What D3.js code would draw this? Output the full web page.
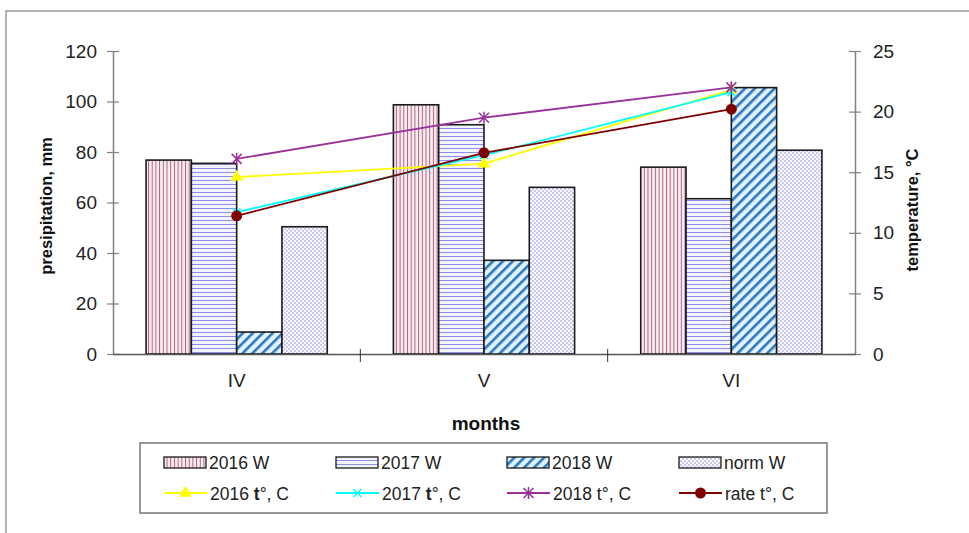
<!DOCTYPE html>
<html>
<head>
<meta charset="utf-8">
<script src="https://cdn.jsdelivr.net/npm/d3@7"></script>
<style>
  html, body { margin: 0; padding: 0; background: #fff; }
  svg { display: block; font-family: "Liberation Sans", Arial, sans-serif; }
</style>
</head>
<body>
<svg id="chart" width="969" height="533"></svg>
<script>
// Months and precipitation (mm) per year, plus the long-term norm
const months = ["IV", "V", "VI"];
const barSeries = ["2016 W", "2017 W", "2018 W", "norm W"];
const precip2016 = [76.8, 98.7, 74.0];
const precip2017 = [75.5, 90.8, 61.5];
const precip2018 = [8.7, 37.1, 105.5];
const precipNorm = [50.4, 66.0, 80.7];

// Mean air temperature (°C) per year and the climatic rate
const lineSeries = ["2016 t°, C", "2017 t°, C", "2018 t°, C", "rate t°, C"];
const temp2016 = [14.6, 15.7, 21.8];
const temp2017 = [11.7, 16.4, 21.6];
const temp2018 = [16.1, 19.5, 22.0];
const tempRate = [11.4, 16.6, 20.2];

const precipTicks = [0, 20, 40, 60, 80, 100, 120];
const tempTicks = [0, 5, 10, 15, 20, 25];

(function () {
const svg = d3.select("#chart");

// pattern fills for the bars
const defs = svg.append("defs");
const p16 = defs.append("pattern").attr("id", "pat2016").attr("patternUnits", "userSpaceOnUse")
  .attr("width", 3.7).attr("height", 10);
p16.append("rect").attr("width", 3.7).attr("height", 10).attr("fill", "#f8eef2");
p16.append("rect").attr("x", 0).attr("width", 1).attr("height", 10).attr("fill", "#b0607e");

const p17 = defs.append("pattern").attr("id", "pat2017").attr("patternUnits", "userSpaceOnUse")
  .attr("width", 10).attr("height", 4);
p17.append("rect").attr("width", 10).attr("height", 4).attr("fill", "#f3f3ff");
p17.append("rect").attr("y", 0).attr("width", 10).attr("height", 1).attr("fill", "#8e8ee8");

const p18 = defs.append("pattern").attr("id", "pat2018").attr("patternUnits", "userSpaceOnUse")
  .attr("width", 7).attr("height", 7).attr("patternTransform", "rotate(45)");
p18.append("rect").attr("width", 7).attr("height", 7).attr("fill", "#e2f1fb");
p18.append("rect").attr("x", 0).attr("width", 2.6).attr("height", 7).attr("fill", "#2a78bd");

const pn = defs.append("pattern").attr("id", "patNorm").attr("patternUnits", "userSpaceOnUse")
  .attr("width", 4).attr("height", 4);
pn.append("rect").attr("width", 4).attr("height", 4).attr("fill", "#fafaff");
pn.append("rect").attr("width", 2).attr("height", 2).attr("fill", "#c9c9f2");
pn.append("rect").attr("x", 2).attr("y", 2).attr("width", 2).attr("height", 2).attr("fill", "#c9c9f2");

const barFills = ["url(#pat2016)", "url(#pat2017)", "url(#pat2018)", "url(#patNorm)"];
const barValues = [precip2016, precip2017, precip2018, precipNorm];
const lineValues = [temp2016, temp2017, temp2018, tempRate];
const lineColors = ["#ffff00", "#00ffff", "#993399", "#800000"];
const lineMarkers = ["triangle", "cross", "asterisk", "circle"];

// outer frame (left and top edges)
svg.append("path").attr("d", "M6,533V11H969").attr("fill", "none").attr("stroke", "#9a9a9a").attr("stroke-width", 1.5);

// plot geometry
const plotLeft = 113, plotRight = 855, plotTop = 51, plotBottom = 354;

const x0 = d3.scaleBand().domain(months).range([plotLeft, plotRight]).paddingInner(0).paddingOuter(0);
const x1 = d3.scaleBand().domain(barSeries).range([0, x0.bandwidth()]).paddingInner(0).paddingOuter(0.73);
const yP = d3.scaleLinear().domain([0, 120]).range([plotBottom, plotTop]);
const yT = d3.scaleLinear().domain([0, 25]).range([plotBottom, plotTop]);

// bars
barSeries.forEach((s, si) => {
  svg.append("g").selectAll("rect").data(months).join("rect")
    .attr("x", m => x0(m) + x1(s))
    .attr("y", (m, i) => yP(barValues[si][i]))
    .attr("width", x1.bandwidth())
    .attr("height", (m, i) => yP(0) - yP(barValues[si][i]))
    .attr("fill", barFills[si])
    .attr("stroke", "#1a1a1a").attr("stroke-width", 1.6);
});

// axes
const axisColor = "#808080";
const gL = svg.append("g").attr("transform", `translate(${plotLeft},0)`)
  .call(d3.axisLeft(yP).tickValues(precipTicks).tickSize(6).tickSizeOuter(0).tickPadding(10));
gL.selectAll(".tick line").attr("x2", -6).attr("x1", 6);
const gR = svg.append("g").attr("transform", `translate(${plotRight},0)`)
  .call(d3.axisRight(yT).tickValues(tempTicks).tickSize(6).tickSizeOuter(0).tickPadding(12));
gR.selectAll(".tick line").attr("x1", -6).attr("x2", 6);
const gX = svg.append("g").attr("transform", `translate(0,${plotBottom})`)
  .call(d3.axisBottom(x0).tickSize(0).tickPadding(20));
// category dividers
gX.selectAll(".divider").data(months.slice(1)).join("line")
  .attr("class", "divider")
  .attr("x1", m => x0(m)).attr("x2", m => x0(m)).attr("y1", -5).attr("y2", 8)
  .attr("stroke", "#333").attr("stroke-width", 1);

[gL, gR, gX].forEach(g => {
  g.select(".domain").attr("stroke", axisColor).attr("stroke-width", 1.5);
  g.selectAll(".tick line").attr("stroke", axisColor).attr("stroke-width", 1.2);
  g.selectAll(".tick text").attr("font-size", 19).attr("fill", "#222")
    .attr("font-family", "'Liberation Sans', Arial, sans-serif");
});
gX.select(".domain").attr("stroke", "#555");

// axis titles
svg.append("text").attr("transform", "translate(52,206) rotate(-90)")
  .attr("text-anchor", "middle").attr("font-size", 16.5).attr("font-weight", "bold").attr("fill", "#111")
  .text("presipitation, mm");
svg.append("text").attr("transform", "translate(918,210) rotate(-90)")
  .attr("text-anchor", "middle").attr("font-size", 16.5).attr("font-weight", "bold").attr("fill", "#111")
  .text("temperature, °C");
svg.append("text").attr("x", 486).attr("y", 430)
  .attr("text-anchor", "middle").attr("font-size", 19).attr("font-weight", "bold").attr("fill", "#111")
  .text("months");

// marker drawing
function drawMarker(g, type, color, cx, cy) {
  if (type === "triangle") {
    g.append("path").attr("d", d3.symbol(d3.symbolTriangle, 70)())
      .attr("transform", `translate(${cx},${cy})`).attr("fill", color);
  } else if (type === "cross") {
    g.append("path").attr("d", "M-4,-4L4,4M-4,4L4,-4")
      .attr("transform", `translate(${cx},${cy})`).attr("stroke", color).attr("stroke-width", 1.5).attr("fill", "none");
  } else if (type === "asterisk") {
    g.append("path").attr("d", "M-5,-5L5,5M-5,5L5,-5M0,-6V6")
      .attr("transform", `translate(${cx},${cy})`).attr("stroke", color).attr("stroke-width", 1.5).attr("fill", "none");
  } else {
    g.append("circle").attr("cx", cx).attr("cy", cy).attr("r", 5.5).attr("fill", color);
  }
}

// temperature lines
const cxOf = m => x0(m) + x0.bandwidth() / 2;
lineSeries.forEach((s, si) => {
  const g = svg.append("g");
  const line = d3.line().x((d, i) => cxOf(months[i])).y(d => yT(d));
  g.append("path").datum(lineValues[si]).attr("d", line)
    .attr("fill", "none").attr("stroke", lineColors[si]).attr("stroke-width", 1.8);
  lineValues[si].forEach((v, i) => drawMarker(g, lineMarkers[si], lineColors[si], cxOf(months[i]), yT(v)));
});

// legend
const lg = svg.append("g");
lg.append("rect").attr("x", 140).attr("y", 443).attr("width", 687).attr("height", 70)
  .attr("fill", "#fff").attr("stroke", "#777").attr("stroke-width", 1.5);
const colX = [164, 336, 507, 679];
barSeries.forEach((s, i) => {
  lg.append("rect").attr("x", colX[i]).attr("y", 457).attr("width", 42).attr("height", 11)
    .attr("fill", barFills[i]).attr("stroke", "#1a1a1a").attr("stroke-width", 1.3);
  lg.append("text").attr("x", colX[i] + 45).attr("y", 469).attr("font-size", 17.5).attr("fill", "#222")
    .text(s);
});
lineSeries.forEach((s, i) => {
  lg.append("line").attr("x1", colX[i]).attr("x2", colX[i] + 43).attr("y1", 493).attr("y2", 493)
    .attr("stroke", lineColors[i]).attr("stroke-width", 1.8);
  drawMarker(lg, lineMarkers[i], lineColors[i], colX[i] + 21.5, 493);
  const t = lg.append("text").attr("x", colX[i] + 46).attr("y", 500).attr("font-size", 17.5).attr("fill", "#222");
  const parts = s.split("t°");
  t.append("tspan").text(parts[0]);
  t.append("tspan").attr("font-weight", i < 2 ? "bold" : "normal").text("t");
  t.append("tspan").text("°" + parts[1]);
});
})();
</script>
</body>
</html>
